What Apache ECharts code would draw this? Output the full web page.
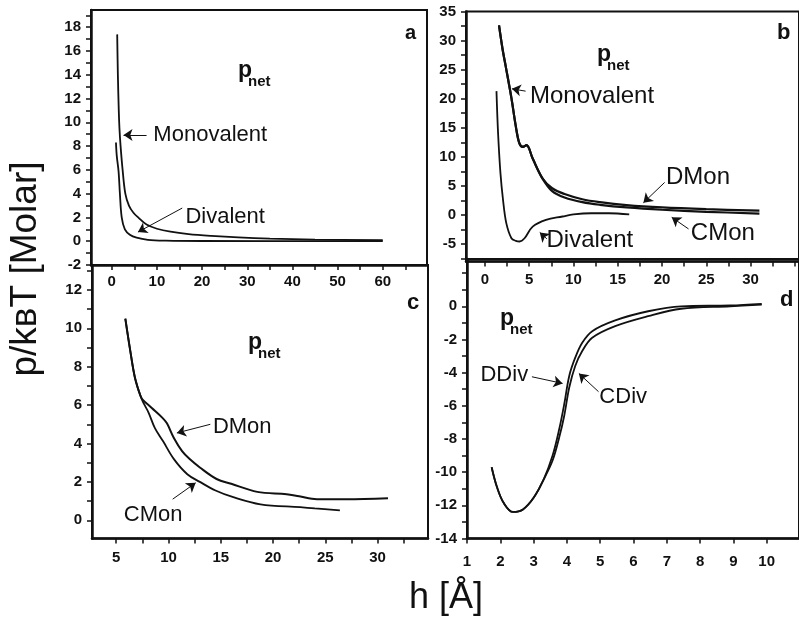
<!DOCTYPE html>
<html>
<head>
<meta charset="utf-8">
<script src="https://cdn.jsdelivr.net/npm/echarts@6/dist/echarts.min.js"></script>
</head>
<body style="margin:0; background:#fff">
<div id="main" style="width:799px; height:618px"></div>
<script>
// ---- data (x = h in Angstrom, y = p/kBT in Molar) ----
// panel a
var aMono = [[1.2,17.4],[1.35,14],[1.55,11],[1.7,9.5],[1.95,8],[2.4,6],[3,4],[3.8,3],[4.8,2.4],[6,1.95],[7.7,1.4],[10,1.05],[13,0.8],[17,0.6],[22,0.45],[28,0.32],[35,0.22],[45,0.14],[60,0.08]];
var aDiv = [[0.93,8.3],[1.1,7.2],[1.5,5.9],[1.8,4],[2.2,2],[2.9,1],[4,0.55],[5.5,0.3],[8,0.12],[12,0.05],[20,0.02],[60,0.01]];
// panel b
var bDMon = [[1.6,32.6],[2.0,28.5],[2.35,25.6],[3.0,20.1],[3.5,15.2],[3.9,12.3],[4.3,11.7],[4.7,12.0],[5.4,9.7],[6.5,6.3],[7.6,4.6],[9,3.6],[11,2.7],[13,2.2],[16,1.7],[20,1.3],[25,1.0],[31,0.75]];
var bCMon = [[1.6,32.6],[2.0,28.5],[2.35,25.6],[3.0,20.1],[3.5,15.2],[3.9,12.3],[4.3,11.7],[4.7,12.0],[5.4,9.7],[6.5,6.3],[7.6,4.1],[9,3.0],[11,2.2],[13,1.75],[16,1.3],[20,0.9],[25,0.55],[31,0.25]];
var bDiv = [[1.31,21.3],[1.49,14.1],[1.76,7.2],[2.05,2.6],[2.42,-1.4],[3.0,-4.0],[3.5,-4.45],[3.92,-4.56],[4.48,-4.0],[5.4,-2.0],[6.9,-0.83],[8.76,-0.26],[10,0.1],[12,0.3],[14,0.3],[16.3,0.1]];
// panel c
var cDMon = [[5.87,10.5],[6.35,8.8],[6.8,7.4],[7.3,6.5],[7.5,6.3],[8.4,5.85],[9.4,5.35],[9.85,5.05],[10.5,4.3],[11.3,3.6],[12,3.2],[13,2.75],[14.6,2.15],[16,1.9],[18.5,1.48],[21.3,1.36],[22.5,1.25],[24.2,1.1],[27,1.1],[31,1.15]];
var cCMon = [[5.87,10.5],[6.35,8.8],[6.8,7.4],[7.45,6.3],[8.1,5.6],[8.7,4.8],[9.5,4.1],[10.5,3.2],[11.8,2.4],[13,2.0],[14.5,1.55],[16.2,1.2],[18.8,0.83],[22.6,0.68],[24,0.62],[26.4,0.52]];
// panel d
var dDDiv = [[1.74,-9.7],[1.9,-10.9],[2.1,-11.85],[2.38,-12.4],[2.68,-12.25],[3.0,-11.55],[3.3,-10.45],[3.57,-9.0],[3.77,-7.4],[3.92,-5.9],[4.07,-4.2],[4.25,-3.1],[4.46,-2.2],[4.76,-1.5],[5.45,-0.85],[6.44,-0.3],[7.43,0.0],[8.9,0.05],[9.85,0.15]];
var dCDiv = [[1.74,-9.7],[1.9,-10.9],[2.1,-11.85],[2.38,-12.4],[2.68,-12.25],[3.0,-11.55],[3.3,-10.45],[3.57,-9.3],[3.77,-7.9],[3.92,-6.6],[4.07,-4.9],[4.25,-3.6],[4.46,-2.7],[4.76,-1.9],[5.45,-1.2],[6.44,-0.6],[7.43,-0.15],[8.9,0.0],[9.85,0.1]];

// tick marks and labelled ticks
var aXTicks = [0,5,10,15,20,25,30,35,40,45,50,55,60,65];
var aXLabels = [0,10,20,30,40,50,60];
var aYTicks = [-2,-1,0,1,2,3,4,5,6,7,8,9,10,11,12,13,14,15,16,17,18,19];
var aYLabels = [-2,0,2,4,6,8,10,12,14,16,18];
var bXTicks = [0,2.5,5,7.5,10,12.5,15,17.5,20,22.5,25,27.5,30,32.5,35];
var bXLabels = [0,5,10,15,20,25,30];
var bYTicks = [-7.5,-5,-2.5,0,2.5,5,7.5,10,12.5,15,17.5,20,22.5,25,27.5,30,32.5,35];
var bYLabels = [-5,0,5,10,15,20,25,30,35];
var cXTicks = [5,7.5,10,12.5,15,17.5,20,22.5,25,27.5,30,32.5];
var cXLabels = [5,10,15,20,25,30];
var cYTicks = [0,1,2,3,4,5,6,7,8,9,10,11,12,13];
var cYLabels = [0,2,4,6,8,10,12];
var dXTicks = [1,2,3,4,5,6,7,8,9,10];
var dXLabels = [1,2,3,4,5,6,7,8,9,10];
var dYTicks = [-14,-13,-12,-11,-10,-9,-8,-7,-6,-5,-4,-3,-2,-1,0,1,2];
var dYLabels = [-14,-12,-10,-8,-6,-4,-2,0];

// annotations: [text, x, y] (left edge of text) and arrows [x1, y1, x2, y2]
var aTexts = [['Monovalent', 9.1, 8.93], ['Divalent', 16.2, 2.04]];
var aArrows = [[7.7, 8.93, 2.6, 8.93], [15.6, 2.79, 5.8, 0.77]];
var bTexts = [['Monovalent', 5.04, 20.4], ['DMon', 20.4, 6.4], ['CMon', 23.2, -3.1], ['Divalent', 6.9, -4.3]];
var bArrows = [[4.6, 21.3, 3.05, 21.7], [20.3, 5.6, 17.9, 2.1], [23.0, -2.4, 21.1, -0.4], [7.0, -4.1, 6.2, -3.0]];
var cTexts = [['DMon', 14.2, 4.86], ['CMon', 5.67, 0.28]];
var cArrows = [[14.0, 5.0, 10.8, 4.55], [10.4, 1.1, 12.6, 1.95]];
var dTexts = [['DDiv', 1.39, -4.14], ['CDiv', 4.96, -5.47]];
var dArrows = [[2.95, -4.25, 3.87, -4.65], [4.95, -5.15, 4.36, -4.05]];

var FONT = '"Liberation Sans", Arial, sans-serif';
var INK = '#111';

var chart = echarts.init(document.getElementById('main'));

function xAx(g, min, max, ticks, labels, margin) {
    return {
        type: 'value', gridIndex: g, min: min, max: max, position: 'bottom',
        axisLine: { show: true, onZero: false, lineStyle: { color: INK, width: 2.5 } },
        axisTick: { show: true, inside: false, length: 5, customValues: ticks, lineStyle: { color: INK, width: 1.5 } },
        axisLabel: { customValues: labels, margin: margin, color: INK, fontSize: 15, fontWeight: 'bold', fontFamily: FONT },
        splitLine: { show: false }
    };
}
function yAx(g, min, max, ticks, labels) {
    return {
        type: 'value', gridIndex: g, min: min, max: max, position: 'left',
        axisLine: { show: true, onZero: false, lineStyle: { color: INK, width: 2.5 } },
        axisTick: { show: true, inside: false, length: 5, customValues: ticks, lineStyle: { color: INK, width: 1.5 } },
        axisLabel: { customValues: labels, margin: 10, color: INK, fontSize: 15, fontWeight: 'bold', fontFamily: FONT },
        splitLine: { show: false }
    };
}
function curve(data, i, w) {
    return {
        type: 'line', data: data, xAxisIndex: i, yAxisIndex: i, symbol: 'none',
        smooth: 0.35, clip: true, silent: true,
        lineStyle: { color: INK, width: w }
    };
}
function notes(i, texts, arrows, size) {
    return {
        type: 'line', data: [], xAxisIndex: i, yAxisIndex: i, silent: true,
        markPoint: {
            symbol: 'circle', symbolSize: 1, silent: true,
            itemStyle: { color: 'rgba(0,0,0,0)' },
            label: { show: true, position: 'right', distance: 0, formatter: '{b}', color: INK, fontSize: size, fontFamily: FONT },
            data: texts.map(function (t) { return { name: t[0], coord: [t[1], t[2]] }; })
        },
        markLine: {
            silent: true, symbol: ['none', 'arrow'], symbolSize: 9,
            itemStyle: { color: INK },
            lineStyle: { color: INK, width: 1, type: 'solid' },
            label: { show: false },
            data: arrows.map(function (a) { return [{ coord: [a[0], a[1]] }, { coord: [a[2], a[3]] }]; })
        }
    };
}
function txt(x, y, s, size, bold, extra) {
    var o = {
        type: 'text', x: x, y: y, silent: true,
        style: {
            text: s, fill: INK, fontSize: size, fontWeight: bold ? 'bold' : 'normal', fontFamily: FONT,
            align: 'left', verticalAlign: 'middle', textAlign: 'left', textVerticalAlign: 'middle'
        }
    };
    if (extra) { for (var k in extra) o[k] = extra[k]; }
    return o;
}
function pnet(x, y) {
    return [txt(x, y, 'p', 23, true), txt(x + 10, y + 11, 'net', 15, true)];
}

var gridStyle = { show: true, borderColor: INK, borderWidth: 2, backgroundColor: 'transparent' };

var option = {
    animation: false,
    backgroundColor: '#fff',
    grid: [
        Object.assign({ left: 91, top: 10, width: 336, height: 255 }, gridStyle),
        Object.assign({ left: 466, top: 11.5, width: 336, height: 250 }, gridStyle),
        Object.assign({ left: 92, top: 265, width: 336, height: 273.5 }, gridStyle),
        Object.assign({ left: 467, top: 259, width: 336, height: 279.5 }, gridStyle)
    ],
    xAxis: [
        xAx(0, -4.6, 69.8, aXTicks, aXLabels, 9),
        xAx(1, -2.13, 35.47, bXTicks, bXLabels, 11),
        xAx(2, 2.68, 34.83, cXTicks, cXLabels, 12),
        xAx(3, 1, 10.97, dXTicks, dXLabels, 16)
    ],
    yAxis: [
        yAx(0, -2, 19.45, aYTicks, aYLabels),
        yAx(1, -8, 35, bYTicks, bYLabels),
        yAx(2, -0.95, 13.3, cYTicks, cYLabels),
        yAx(3, -14, 2.85, dYTicks, dYLabels)
    ],
    series: [
        curve(aMono, 0, 1.8), curve(aDiv, 0, 1.8),
        curve(bDMon, 1, 2.2), curve(bCMon, 1, 2.2), curve(bDiv, 1, 1.8),
        curve(cDMon, 2, 2), curve(cCMon, 2, 1.8),
        curve(dDDiv, 3, 1.8), curve(dCDiv, 3, 1.8),
        notes(0, aTexts, aArrows, 22),
        notes(1, bTexts, bArrows, 24),
        notes(2, cTexts, cArrows, 22),
        notes(3, dTexts, dArrows, 22)
    ],
    graphic: [].concat(
        pnet(238, 71), pnet(597, 55), pnet(248, 343), pnet(500, 319),
        [
            txt(405, 33, 'a', 20, true),
            txt(777, 33, 'b', 22, true),
            txt(407, 303, 'c', 22, true),
            txt(780, 300, 'd', 22, true),
            txt(26, 269, 'p/kʙT [Molar]', 37, false, { rotation: Math.PI / 2 }),
            txt(446, 598, 'h [Å]', 36, false)
        ]
    )
};
// axis titles centred on their anchor
option.graphic[option.graphic.length - 2].style.align = 'center';
option.graphic[option.graphic.length - 2].style.textAlign = 'center';
option.graphic[option.graphic.length - 1].style.align = 'center';
option.graphic[option.graphic.length - 1].style.textAlign = 'center';

chart.setOption(option);
</script>
</body>
</html>
